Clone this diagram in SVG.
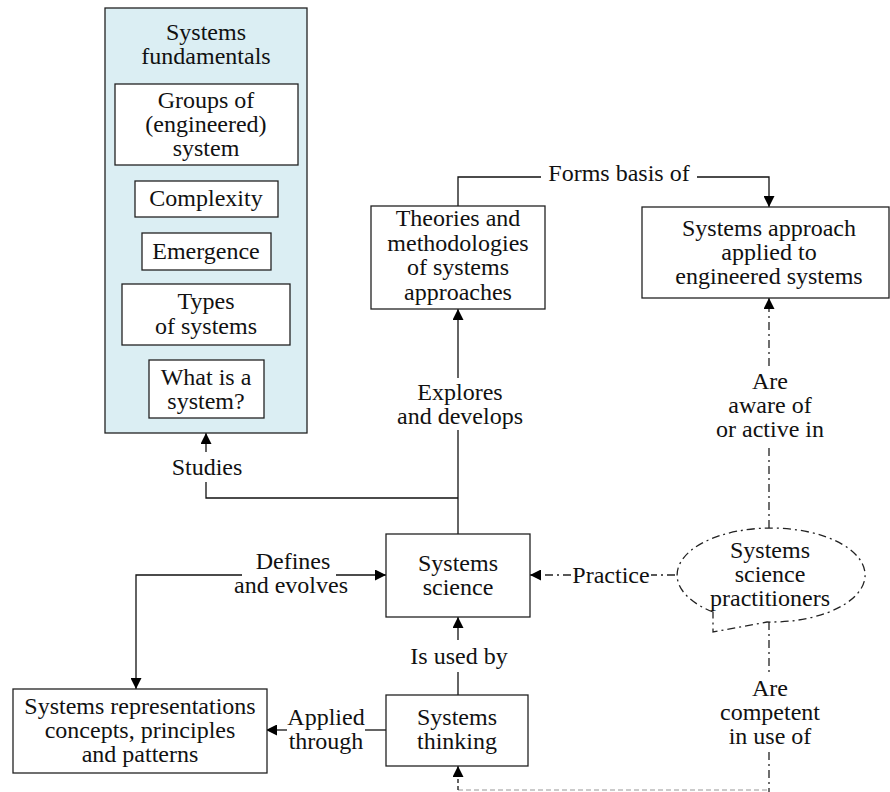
<svg xmlns="http://www.w3.org/2000/svg" width="890" height="792" viewBox="0 0 890 792">
<style>
text{font-family:"Liberation Serif","Times New Roman",serif;font-size:24px;fill:#111;text-anchor:middle}
.box{fill:#fff;stroke:#222;stroke-width:1.3}
.c{fill:none;stroke:#111;stroke-width:1.3}
.dd{fill:none;stroke:#222;stroke-width:1.3;stroke-dasharray:8 4 2 4}
.gd{fill:none;stroke:#bbb;stroke-width:1.5;stroke-dasharray:5 3}
</style>
<defs>
<marker id="a" viewBox="0 0 10 10" refX="10" refY="5" markerWidth="11" markerHeight="11" markerUnits="userSpaceOnUse" orient="auto"><path d="M0,0 L10,5 L0,10 Z" fill="#000"/></marker>
</defs>
<rect width="890" height="792" fill="#fff"/>

<g id="connectors">
<polyline class="c" points="458,206 458,177 541,177"/>
<polyline class="c" points="697,177 769,177 769,207" marker-end="url(#a)"/>
<line class="c" x1="458" y1="534" x2="458" y2="430"/>
<line class="c" x1="458" y1="378" x2="458" y2="309" marker-end="url(#a)"/>
<polyline class="c" points="458,498 206,498 206,482"/>
<line class="c" x1="206" y1="452" x2="206" y2="433" marker-end="url(#a)"/>
<line class="dd" x1="571" y1="575" x2="530" y2="575" marker-end="url(#a)"/>
<line class="dd" x1="675" y1="575" x2="651" y2="575"/>
<line class="dd" x1="769" y1="528" x2="769" y2="446"/>
<line class="dd" x1="769" y1="366" x2="769" y2="298" marker-end="url(#a)"/>
<line class="dd" x1="769" y1="622" x2="769" y2="672"/>
<line class="dd" x1="769" y1="752" x2="769" y2="792"/>
<line class="gd" x1="458" y1="790" x2="770" y2="790"/>
<line class="c" x1="458" y1="790" x2="458" y2="766" stroke-dasharray="4 3" marker-end="url(#a)"/>
<line class="c" x1="458" y1="695" x2="458" y2="672"/>
<line class="c" x1="458" y1="640" x2="458" y2="617" marker-end="url(#a)"/>
<line class="c" x1="386" y1="730" x2="365" y2="730"/>
<line class="c" x1="287" y1="730" x2="266" y2="730" marker-end="url(#a)"/>
<polyline class="c" points="242,575 136,575 136,689" marker-end="url(#a)"/>
<line class="c" x1="336" y1="575" x2="386" y2="575" marker-end="url(#a)"/>
<text x="619" y="181">Forms basis of</text>
<text x="460" y="400">Explores</text>
<text x="460" y="424">and develops</text>
<text x="207" y="475">Studies</text>
<text x="611" y="583">Practice</text>
<text x="770" y="389">Are</text>
<text x="770" y="413">aware of</text>
<text x="770" y="437">or active in</text>
<text x="770" y="696">Are</text>
<text x="770" y="720">competent</text>
<text x="770" y="744">in use of</text>
<text x="459" y="664">Is used by</text>
<text x="326" y="725">Applied</text>
<text x="326" y="749">through</text>
<text x="293" y="569">Defines</text>
<text x="291" y="593">and evolves</text>
</g>

<g id="fundamentals">
<rect x="105" y="8" width="202" height="425" fill="#dbeef3" stroke="#222" stroke-width="1.3"/>
<text x="206" y="40">Systems</text>
<text x="206" y="64">fundamentals</text>
</g>
<g id="groups">
<rect class="box" x="115" y="84" width="183" height="81"/>
<text x="206" y="108">Groups of</text>
<text x="206" y="132">(engineered)</text>
<text x="206" y="156">system</text>
</g>
<g id="complexity">
<rect class="box" x="135" y="181" width="143" height="36"/>
<text x="206" y="206">Complexity</text>
</g>
<g id="emergence">
<rect class="box" x="142" y="233" width="129" height="37"/>
<text x="206" y="259">Emergence</text>
</g>
<g id="types">
<rect class="box" x="122" y="284" width="168" height="61"/>
<text x="206" y="309">Types</text>
<text x="206" y="334">of systems</text>
</g>
<g id="whatis">
<rect class="box" x="149" y="360" width="115" height="58"/>
<text x="206" y="385">What is a</text>
<text x="206" y="409">system?</text>
</g>

<g id="theories">
<rect class="box" x="371" y="206" width="174" height="103"/>
<text x="458" y="226">Theories and</text>
<text x="458" y="251">methodologies</text>
<text x="458" y="275">of systems</text>
<text x="458" y="300">approaches</text>
</g>
<g id="approach">
<rect class="box" x="642" y="207" width="247" height="91"/>
<text x="769" y="236">Systems approach</text>
<text x="769" y="260">applied to</text>
<text x="769" y="284">engineered systems</text>
</g>
<g id="science">
<rect class="box" x="386" y="534" width="144" height="83"/>
<text x="458" y="571">Systems</text>
<text x="458" y="595">science</text>
</g>
<g id="practitioners">
<path class="dd" d="M713,612 A94,47 0 1 1 767,622 L713,632 Z" fill="#fff"/>
<text x="770" y="558">Systems</text>
<text x="770" y="582">science</text>
<text x="770" y="606">practitioners</text>
</g>
<g id="thinking">
<rect class="box" x="386" y="695" width="142" height="71"/>
<text x="457" y="725">Systems</text>
<text x="457" y="749">thinking</text>
</g>
<g id="representations">
<rect class="box" x="13" y="689" width="254" height="84"/>
<text x="140" y="714">Systems representations</text>
<text x="140" y="738">concepts, principles</text>
<text x="140" y="762">and patterns</text>
</g>
</svg>
